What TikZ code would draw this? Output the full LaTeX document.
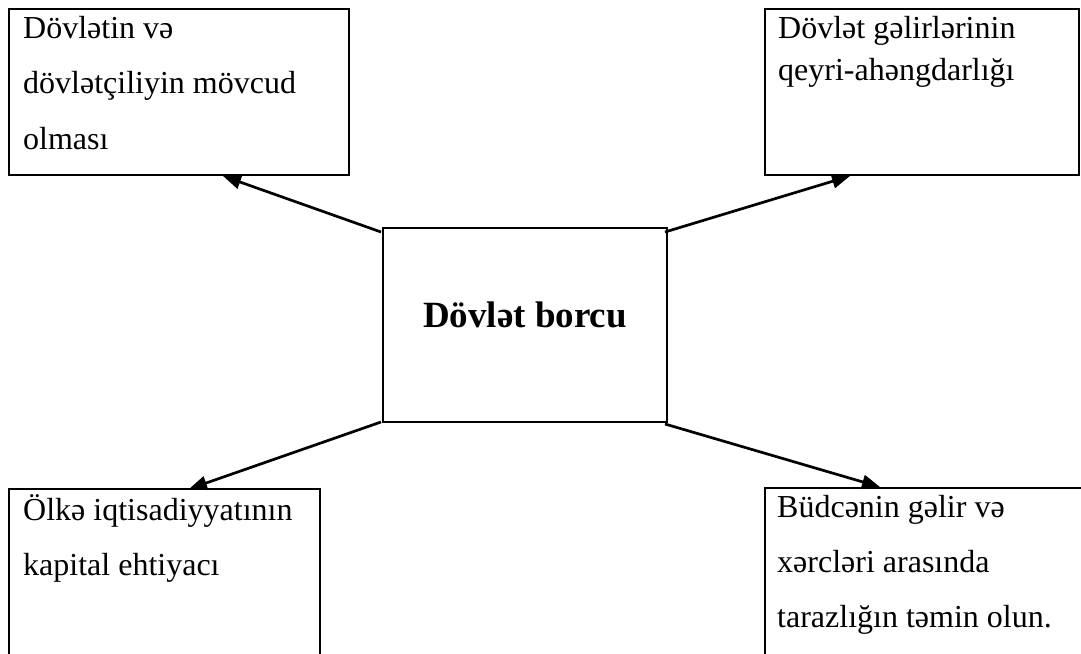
\documentclass[tikz,border=0pt]{standalone}
\usepackage{fontspec}
\setmainfont{Liberation Serif}
\usetikzlibrary{arrows.meta,calc}
\begin{document}
\begin{tikzpicture}[x=1pt,y=-1pt,
 box/.style={draw, line width=2.7pt, inner sep=0pt, outer sep=0pt, anchor=north west},
 txt/.style={anchor=base west, inner sep=0pt, font=\fontsize{32}{38}\selectfont},
 arr/.style={line width=2.7pt, -{Triangle[length=18pt,width=14pt]}}]
\useasboundingbox (0,0) rectangle (1081,653);
\clip (0,0) rectangle (1081,653);
\node[box, minimum width=340pt, minimum height=166pt] (tl) at (9,9) {};
\node[box, minimum width=314pt, minimum height=166pt] (tr) at (765,9) {};
\node[box, minimum width=311pt, minimum height=200pt] (bl) at (9,489) {};
\node[box, minimum width=340pt, minimum height=200pt] (br) at (765,488) {};
\node[box, minimum width=284pt, minimum height=194pt] (c) at (383,228) {};
\node[anchor=base, inner sep=0pt, font=\bfseries\fontsize{37}{44}\selectfont] (ct) at (525,327) {Dövlət borcu};
\node[txt] (tl1) at (23,38) {Dövlətin və};
\node[txt] (tl2) at (23,93) {dövlətçiliyin mövcud};
\node[txt] (tl3) at (23,149) {olması};
\node[txt] (tr1) at (778,38) {Dövlət gəlirlərinin};
\node[txt] (tr2) at (778,80) {qeyri-ahəngdarlığı};
\node[txt] (bl1) at (23,520) {Ölkə iqtisadiyyatının};
\node[txt] (bl2) at (23,575) {kapital ehtiyacı};
\node[txt] (br1) at (777,517) {Büdcənin gəlir və};
\node[txt] (br2) at (777,572) {xərcləri arasında};
\node[txt] (br3) at (777,627) {tarazlığın təmin olun.};
\draw[arr] ($(c.north west)+(-2,4)$) -- ($(tl.south west)+(214,1)$);
\draw[arr] ($(c.north east)+(-2,4)$) -- ($(tr.south west)+(85,1)$);
\draw[arr] ($(c.south west)+(-2,0)$) -- ($(bl.north west)+(180,0)$);
\draw[arr] ($(c.south east)+(-2,2)$) -- ($(br.north west)+(115,-1)$);
\end{tikzpicture}
\end{document}
